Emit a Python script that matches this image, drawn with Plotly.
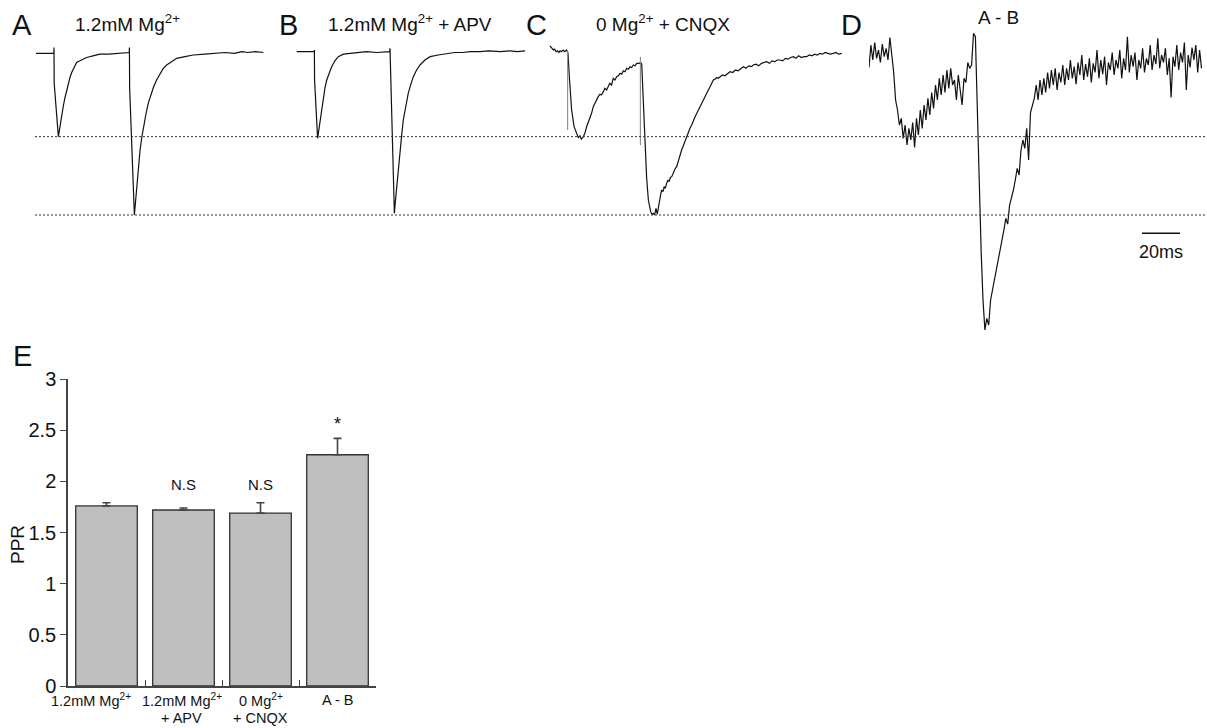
import numpy as np
import plotly.graph_objects as go

W, H = 1207, 728
FONT = "Liberation Sans, Arial, Helvetica, sans-serif"

# ---------------- Paired-pulse EPSC traces (time in ms, current in pA) ----------------
# A: 1.2 mM Mg2+
a_t = [0.5, 5.0, 9.9, 10.0, 10.1, 12.3, 13.2, 14.1, 15.0, 15.8, 16.7, 17.5, 18.4, 19.3, 20.6,
       21.9, 24.5, 27.2, 30.5, 34.2, 38.6, 43.0, 46.5, 49.6, 49.7, 49.8, 52.3, 53.5, 54.4, 55.3,
       56.2, 57.0, 58.3, 59.6, 61.0, 62.3, 64.0, 65.8, 67.5, 69.3, 71.9, 74.6, 78.9, 83.3, 89.4,
       95.6, 100.0, 105.0, 109.0, 112.0, 116.0, 120.2]
a_i = [0, 0, 0, 7, -36, -100, -86, -72, -62, -53, -44, -36, -29, -23, -17,
       -11, -8, -5, -3, -1, -1, 0, 1, 1, 7, -41, -194, -161, -137, -116,
       -101, -89, -74, -60, -50, -41, -32, -24, -18, -14, -10, -6, -4, -2, -1,
       0, 1, 0, 2, 1, 2, 1]

# B: 1.2 mM Mg2+ + APV
b_t = [0.9, 5.0, 10.1, 10.2, 10.3, 11.9, 12.5, 13.2, 14.0, 14.9, 15.8, 16.7, 18.0, 19.3, 21.0,
       22.8, 25.5, 28.9, 33.0, 37.7, 43.0, 49.5, 49.8, 50.0, 50.5, 52.3, 52.9, 53.5, 54.4, 55.3,
       56.2, 57.0, 58.3, 59.6, 61.0, 62.3, 64.0, 65.8, 68.4, 71.1, 75.4, 79.8, 84.0, 88.0, 92.5,
       97.4, 102.0, 108.0, 113.0, 117.0, 121.1]
b_i = [2, 2, 2, 4, -32, -102, -93, -80, -66, -52, -41, -32, -23, -16, -9,
       -4, -1, 0, 1, 2, 1, 2, 2, 6, -36, -192, -176, -160, -137, -116,
       -97, -80, -63, -48, -37, -28, -20, -14, -8, -4, -2, 0, 1, 1, 2,
       2, 3, 2, 3, 2, 3]

# C: 0 Mg2+ + CNQX (NMDA component)
c_t = [0.5, 1.5, 2.3, 3.0, 3.7, 4.5, 5.2, 5.8, 6.5, 7.4, 8.2, 9.3, 10.0, 10.7, 11.9,
       13.2, 14.6, 15.4, 16.3, 17.0, 18.1, 19.0, 19.8, 20.7, 21.6, 22.4, 23.3, 24.1, 24.9, 25.9,
       26.8, 27.6, 28.6, 29.4, 30.3, 31.2, 32.0, 32.9, 33.8, 34.7, 35.6, 36.5, 37.4, 38.3, 39.1,
       40.0, 40.9, 41.8, 42.6, 43.5, 44.4, 45.3, 46.2, 47.5, 48.3, 48.8, 50.5, 51.4, 52.3, 53.0,
       53.5, 54.2, 54.9, 55.6, 56.3, 57.0, 57.6, 58.1, 58.7, 59.3, 60.0, 60.6, 61.2, 61.9, 62.6,
       63.2, 63.9, 64.6, 65.2, 65.9, 66.5, 67.2, 67.8, 68.5, 69.1, 69.8, 70.5, 71.1, 71.8, 72.5,
       73.3, 74.2, 75.1, 76.0, 76.9, 77.8, 78.6, 79.5, 80.4, 81.3, 82.1, 83.0, 83.9, 84.8, 85.6,
       86.5, 87.4, 88.3, 89.1, 90.0, 91.3, 92.6, 94.0, 95.3, 96.7, 98.1, 99.5, 100.9, 102.3, 103.7,
       105.1, 106.5, 107.5, 109.0, 110.4, 111.8, 113.2, 114.6, 116.0, 117.4, 118.8, 120.2, 121.6, 123.0, 124.4,
       125.8, 127.2, 128.6, 130.0, 131.4, 132.8, 134.2, 135.6, 137.0, 138.4, 139.8, 141.2, 142.6, 144.0, 145.4,
       146.8, 148.2, 149.6, 151.0, 152.4, 154.1]
c_i = [9, 6, 4, 5, 2, 3, 1, 3, 2, 4, 2, 4, 0, -28, -68,
       -88, -98, -101, -99, -103, -100, -95, -88, -83, -76, -72, -64, -60, -55, -52,
       -49, -50, -46, -42, -44, -40, -36, -38, -30, -32, -28, -27, -24, -25, -21,
       -22, -18, -19, -16, -17, -14, -15, -12, -12, -11, -13, -116, -150, -176, -186,
       -190, -193, -192, -194, -186, -193, -184, -176, -170, -164, -166, -160, -162, -156, -152,
       -154, -149, -148, -144, -142, -138, -136, -131, -126, -122, -116, -112, -108, -105, -100,
       -95, -90, -86, -80, -76, -72, -68, -64, -60, -56, -52, -48, -44, -40, -36,
       -32, -31, -29, -30, -28, -26, -27, -24, -22, -23, -20, -21, -18, -16, -18,
       -15, -16, -14, -13, -15, -12, -11, -10, -12, -9, -10, -8, -8, -9, -6,
       -7, -5, -4, -6, -3, -5, -4, -4, -2, -3, -1, -2, 0, -1, 1,
       0, -1, 0, 1, -1, 0]
# stimulus artefacts in C (time, top, bottom)
c_art_t = [9.8, 48.1]
c_art_top = [4, -4]
c_art_bot = [-92, -110]

# D: A - B (NMDA component, digital subtraction), sampled every 1 ms
D_DT_MS = 1.0
d_i = [-17, 10, -8, 13, -6, 4, -11, 11, -4, 6,
       -8, 19, -2, -23, -56, -68, -86, -78, -102, -86,
       -110, -90, -104, -83, -113, -78, -98, -68, -90, -62,
       -80, -54, -74, -47, -66, -38, -56, -30, -50, -26,
       -47, -20, -42, -18, -38, -32, -56, -26, -44, -62,
       -30, -35, -11, -18, -14, 24, 20, -68, -176, -236,
       -296, -332, -318, -326, -296, -284, -276, -260, -251, -236,
       -227, -212, -198, -205, -182, -174, -164, -152, -138, -146,
       -116, -104, -114, -90, -128, -71, -62, -54, -38, -56,
       -32, -50, -30, -47, -23, -42, -20, -38, -18, -44,
       -23, -35, -14, -38, -18, -32, -8, -30, -16, -37,
       -11, -26, -2, -32, -13, -28, -6, -35, -12, -23,
       4, -30, -8, -25, -4, -38, -11, -20, 1, -26,
       -8, -18, 4, -30, -6, -20, 20, -23, -2, -16,
       1, -32, -8, -18, 6, -23, -6, -14, 10, -20,
       -2, -13, 18, -18, -2, -11, 6, -26, -6, -53,
       -4, -16, 10, -20, 1, -11, 13, -44, -2, -17,
       7, -8, 10, -23, 4, -18]
d_t = np.arange(len(d_i)) * D_DT_MS

SCALE_BAR_MS = 20

# ---------------- Paired-pulse ratio summary ----------------
conditions = ["1.2mM Mg<sup>2+</sup>", "1.2mM Mg<sup>2+</sup><br>+ APV",
              "0 Mg<sup>2+</sup><br>+ CNQX", "A - B"]
ppr_mean = [1.76, 1.72, 1.69, 2.26]
ppr_sem = [0.03, 0.02, 0.10, 0.16]
ppr_marks = ["", "N.S", "N.S", "*"]


def fx(px):
    return px / W


def fy(py):
    return 1 - py / H


PX_PER_MS = 1.9
trace_panels = [  # axis id, left px, right px
    ("x2", 35, 275),
    ("x3", 295, 535),
    ("x4", 549, 862),
    ("x5", 869, 1207),
]

fig = go.Figure()

line_style = dict(color="#111111", width=1.2)
for (ax, _, _), (t, i) in zip(trace_panels, [(a_t, a_i), (b_t, b_i), (c_t, c_i), (d_t, d_i)]):
    fig.add_trace(go.Scatter(x=t, y=i, mode="lines", line=line_style,
                             xaxis=ax, yaxis="y2", hoverinfo="skip"))

for t0, top, bot in zip(c_art_t, c_art_top, c_art_bot):
    fig.add_trace(go.Scatter(x=[t0, t0], y=[top, bot], mode="lines",
                             line=dict(color="#8a8a8a", width=1.1),
                             xaxis="x4", yaxis="y2", hoverinfo="skip"))

# PPR bars
cat_idx = list(range(len(conditions)))
fig.add_trace(go.Bar(
    x=cat_idx, y=ppr_mean, width=0.8,
    marker=dict(color="#bfbfbf", line=dict(color="#333333", width=1.3)),
    error_y=dict(type="data", array=ppr_sem, arrayminus=[0] * len(ppr_sem),
                 symmetric=False, color="#444444", thickness=1.6, width=4),
    xaxis="x", yaxis="y",
))

layout = dict(
    width=W, height=H,
    margin=dict(l=0, r=0, t=0, b=0, autoexpand=False),
    paper_bgcolor="white", plot_bgcolor="white",
    showlegend=False,
    font=dict(family=FONT, color="#111111"),
    # category boundaries get small inward ticks; the labels are drawn below
    xaxis=dict(domain=[fx(68), fx(376)], range=[-0.5, 3.5],
               tickvals=[0.5, 1.5, 2.5, 3.5], showticklabels=False,
               showline=True, linecolor="#444444", linewidth=1.5,
               ticks="inside", ticklen=6, tickcolor="#444444",
               tickwidth=1.3, showgrid=False, zeroline=False,
               automargin=False, anchor="y"),
    yaxis=dict(domain=[fy(686), fy(379)], range=[0, 3], dtick=0.5,
               showline=True, linecolor="#444444", linewidth=1.5,
               ticks="outside", ticklen=6, tickcolor="#444444", tickwidth=1.3,
               showgrid=False, zeroline=False, automargin=False,
               tickfont=dict(size=20, color="#111111"), anchor="x"),
    yaxis2=dict(domain=[fy(345), fy(25)], range=[-350, 34], visible=False,
                anchor="x2", fixedrange=True, automargin=False),
)
for ax, left, right in trace_panels:
    key = "xaxis" + ax[1:]
    layout[key] = dict(domain=[fx(left), fx(right)], range=[0, (right - left) / PX_PER_MS],
                       visible=False, anchor="y2", automargin=False)

# dotted reference lines at the two peak amplitudes of trace A
a_t_arr, a_i_arr = np.array(a_t), np.array(a_i)
peak1 = a_i_arr[a_t_arr < 40].min()
peak2 = a_i_arr[a_t_arr >= 40].min()
shapes = []
for pk in (peak1, peak2):
    shapes.append(dict(type="line", xref="paper", yref="y2", x0=fx(35), x1=1, y0=pk, y1=pk,
                       line=dict(color="#333333", width=1, dash="2px,2px")))

# 20 ms scale bar under trace D
sb_start = 143.7
sb_y = -216
shapes.append(dict(type="line", xref="x5", yref="y2", x0=sb_start, x1=sb_start + SCALE_BAR_MS,
                   y0=sb_y, y1=sb_y, line=dict(color="#111111", width=1.5)))
layout["shapes"] = shapes

annotations = []
labels = [
    ("A", 10, 25, 29), ("1.2mM Mg<sup>2+</sup>", 73, 23, 19),
    ("B", 277, 25, 29), ("1.2mM Mg<sup>2+</sup> + APV", 326, 23, 19),
    ("C", 524, 25, 29), ("0 Mg<sup>2+</sup> + CNQX", 594, 23, 19),
    ("D", 839, 25, 29), ("A - B", 976, 17, 19),
    ("E", 11, 356, 29),
]
for text, x, y, size in labels:
    annotations.append(dict(text=text, x=fx(x), y=fy(y), xref="paper", yref="paper",
                            xanchor="left", yanchor="middle", showarrow=False,
                            font=dict(size=size, family=FONT, color="#111111")))

annotations.append(dict(text=f"{SCALE_BAR_MS}ms", x=sb_start + SCALE_BAR_MS / 2, y=-238,
                        xref="x5", yref="y2", showarrow=False, xanchor="center",
                        yanchor="middle", font=dict(size=18, family=FONT, color="#111111")))

annotations.append(dict(text="PPR", x=fx(17), y=fy(545), xref="paper", yref="paper",
                        textangle=-90, showarrow=False, xanchor="center", yanchor="middle",
                        font=dict(size=19, family=FONT, color="#111111")))

# condition labels under the bars, one annotation per text line
# (the first label sits a little to the left of its bar)
label_shift = [-16, -2, 0, 0]
line_mid_px = [700, 718]
for k, (name, dx) in enumerate(zip(conditions, label_shift)):
    for row, line in enumerate(name.split("<br>")):
        annotations.append(dict(text=line, x=k, y=fy(line_mid_px[row]), xref="x", yref="paper",
                                xshift=dx, showarrow=False, xanchor="center",
                                yanchor="middle", borderpad=0,
                                font=dict(size=14.5, family=FONT, color="#111111")))

for k, (mark, m, e) in enumerate(zip(ppr_marks, ppr_mean, ppr_sem)):
    if not mark:
        continue
    ypos = 2.56 if mark == "*" else 1.97
    annotations.append(dict(text=mark, x=k, y=ypos, xref="x", yref="y", showarrow=False,
                            xanchor="center", yanchor="middle",
                            font=dict(size=18 if mark == "*" else 15, family=FONT,
                                      color="#111111")))
layout["annotations"] = annotations

fig.update_layout(**layout)
fig.write_html("out.html")
